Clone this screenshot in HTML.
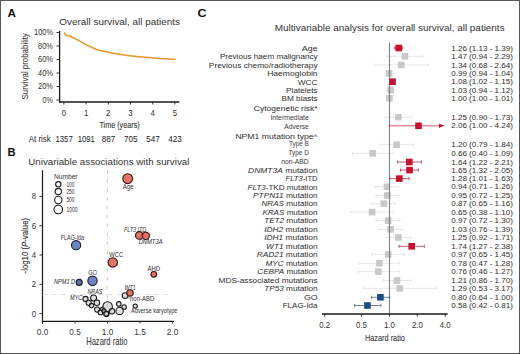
<!DOCTYPE html>
<html><head><meta charset="utf-8"><style>
html,body{margin:0;padding:0;background:#fff;}
svg{display:block;font-family:"Liberation Sans", sans-serif;}
</style></head><body>
<svg width="520" height="354" viewBox="0 0 520 354">
<rect x="0.5" y="0.5" width="519" height="353" fill="#fff" stroke="#575757" stroke-width="1"/>
<text x="7.40" y="16.80" font-size="11.0" textLength="8.40" lengthAdjust="spacingAndGlyphs" font-weight="bold" fill="#111">A</text>
<text x="59.30" y="24.90" font-size="9.5" textLength="120.70" lengthAdjust="spacingAndGlyphs" fill="#333">Overall survival, all patients</text>
<line x1="59.6" y1="30.8" x2="59.6" y2="102.6" stroke="#1a1a1a" stroke-width="1.3"/>
<line x1="56.5" y1="32.50" x2="59.6" y2="32.50" stroke="#222" stroke-width="0.9"/>
<text x="34.00" y="35.20" font-size="8.2" textLength="19.00" lengthAdjust="spacingAndGlyphs" fill="#333">100%</text>
<line x1="56.5" y1="46.00" x2="59.6" y2="46.00" stroke="#222" stroke-width="0.9"/>
<text x="38.00" y="48.70" font-size="8.2" textLength="15.00" lengthAdjust="spacingAndGlyphs" fill="#333">80%</text>
<line x1="56.5" y1="59.50" x2="59.6" y2="59.50" stroke="#222" stroke-width="0.9"/>
<text x="38.00" y="62.20" font-size="8.2" textLength="15.00" lengthAdjust="spacingAndGlyphs" fill="#333">60%</text>
<line x1="56.5" y1="73.00" x2="59.6" y2="73.00" stroke="#222" stroke-width="0.9"/>
<text x="38.00" y="75.70" font-size="8.2" textLength="15.00" lengthAdjust="spacingAndGlyphs" fill="#333">40%</text>
<line x1="56.5" y1="86.50" x2="59.6" y2="86.50" stroke="#222" stroke-width="0.9"/>
<text x="38.00" y="89.20" font-size="8.2" textLength="15.00" lengthAdjust="spacingAndGlyphs" fill="#333">20%</text>
<line x1="56.5" y1="100.00" x2="59.6" y2="100.00" stroke="#222" stroke-width="0.9"/>
<text x="42.60" y="102.70" font-size="8.2" textLength="10.40" lengthAdjust="spacingAndGlyphs" fill="#333">0%</text>
<line x1="59" y1="102" x2="179.4" y2="102" stroke="#1a1a1a" stroke-width="1.4"/>
<line x1="63.90" y1="102" x2="63.90" y2="104.5" stroke="#222" stroke-width="0.9"/>
<text x="63.90" y="115.60" font-size="9.0" textLength="4.40" lengthAdjust="spacingAndGlyphs" text-anchor="middle" fill="#333">0</text>
<line x1="86.10" y1="102" x2="86.10" y2="104.5" stroke="#222" stroke-width="0.9"/>
<text x="86.10" y="115.60" font-size="9.0" textLength="4.40" lengthAdjust="spacingAndGlyphs" text-anchor="middle" fill="#333">1</text>
<line x1="108.30" y1="102" x2="108.30" y2="104.5" stroke="#222" stroke-width="0.9"/>
<text x="108.30" y="115.60" font-size="9.0" textLength="4.40" lengthAdjust="spacingAndGlyphs" text-anchor="middle" fill="#333">2</text>
<line x1="130.50" y1="102" x2="130.50" y2="104.5" stroke="#222" stroke-width="0.9"/>
<text x="130.50" y="115.60" font-size="9.0" textLength="4.40" lengthAdjust="spacingAndGlyphs" text-anchor="middle" fill="#333">3</text>
<line x1="152.70" y1="102" x2="152.70" y2="104.5" stroke="#222" stroke-width="0.9"/>
<text x="152.70" y="115.60" font-size="9.0" textLength="4.40" lengthAdjust="spacingAndGlyphs" text-anchor="middle" fill="#333">4</text>
<line x1="174.90" y1="102" x2="174.90" y2="104.5" stroke="#222" stroke-width="0.9"/>
<text x="174.90" y="115.60" font-size="9.0" textLength="4.40" lengthAdjust="spacingAndGlyphs" text-anchor="middle" fill="#333">5</text>
<text x="99.40" y="128.30" font-size="9.2" textLength="40.30" lengthAdjust="spacingAndGlyphs" fill="#333" stroke="#333" stroke-width="0.1">Time (years)</text>
<text x="28.70" y="141.90" font-size="8.2" textLength="22.10" lengthAdjust="spacingAndGlyphs" fill="#222">At risk</text>
<text x="55.45" y="141.90" font-size="8.2" textLength="17.30" lengthAdjust="spacingAndGlyphs" fill="#222">1357</text>
<text x="77.65" y="141.90" font-size="8.2" textLength="17.30" lengthAdjust="spacingAndGlyphs" fill="#222">1091</text>
<text x="101.75" y="141.90" font-size="8.2" textLength="13.50" lengthAdjust="spacingAndGlyphs" fill="#222">887</text>
<text x="123.95" y="141.90" font-size="8.2" textLength="13.50" lengthAdjust="spacingAndGlyphs" fill="#222">705</text>
<text x="146.15" y="141.90" font-size="8.2" textLength="13.50" lengthAdjust="spacingAndGlyphs" fill="#222">547</text>
<text x="168.35" y="141.90" font-size="8.2" textLength="13.50" lengthAdjust="spacingAndGlyphs" fill="#222">423</text>
<text x="27.80" y="99.40" font-size="9.6" textLength="66.20" lengthAdjust="spacingAndGlyphs" fill="#3a3a3a" transform="rotate(-90 27.80 99.40)" stroke="#3a3a3a" stroke-width="0.08">Survival probability</text>
<path d="M64.3,32.4 L65.0,33.6 L65.4,35.0 L65.60,35.10 C66.33,35.30 68.27,35.62 70.00,36.30 C71.73,36.98 74.20,38.30 76.00,39.20 C77.80,40.10 78.72,40.58 80.80,41.70 C82.88,42.82 85.93,44.65 88.50,45.90 C91.07,47.15 93.65,48.30 96.20,49.20 C98.75,50.10 101.25,50.68 103.80,51.30 C106.35,51.92 108.93,52.42 111.50,52.90 C114.07,53.38 116.25,53.73 119.20,54.20 C122.15,54.67 125.32,55.23 129.20,55.70 C133.08,56.17 137.37,56.55 142.50,57.00 C147.63,57.45 154.52,58.00 160.00,58.40 C165.48,58.80 172.83,59.23 175.40,59.40" fill="none" stroke="#e8962a" stroke-width="1.5" stroke-linejoin="round"/>
<text x="7.40" y="155.90" font-size="10.2" textLength="8.10" lengthAdjust="spacingAndGlyphs" font-weight="bold" fill="#111">B</text>
<text x="28.30" y="164.70" font-size="9.5" textLength="161.10" lengthAdjust="spacingAndGlyphs" fill="#333">Univariable associations with survival</text>
<line x1="42.5" y1="170.3" x2="42.5" y2="323.8" stroke="#1a1a1a" stroke-width="1.2"/>
<line x1="42" y1="321.4" x2="174" y2="321.4" stroke="#1a1a1a" stroke-width="1.3"/>
<line x1="39.4" y1="313.60" x2="42.5" y2="313.60" stroke="#222" stroke-width="0.9"/>
<text x="31.80" y="316.60" font-size="8.5" textLength="4.30" lengthAdjust="spacingAndGlyphs" fill="#333">0</text>
<line x1="39.4" y1="284.30" x2="42.5" y2="284.30" stroke="#222" stroke-width="0.9"/>
<text x="31.80" y="287.30" font-size="8.5" textLength="4.30" lengthAdjust="spacingAndGlyphs" fill="#333">2</text>
<line x1="39.4" y1="255.00" x2="42.5" y2="255.00" stroke="#222" stroke-width="0.9"/>
<text x="31.80" y="258.00" font-size="8.5" textLength="4.30" lengthAdjust="spacingAndGlyphs" fill="#333">4</text>
<line x1="39.4" y1="225.70" x2="42.5" y2="225.70" stroke="#222" stroke-width="0.9"/>
<text x="31.80" y="228.70" font-size="8.5" textLength="4.30" lengthAdjust="spacingAndGlyphs" fill="#333">6</text>
<line x1="39.4" y1="196.40" x2="42.5" y2="196.40" stroke="#222" stroke-width="0.9"/>
<text x="31.80" y="199.40" font-size="8.5" textLength="4.30" lengthAdjust="spacingAndGlyphs" fill="#333">8</text>
<line x1="42.50" y1="321.4" x2="42.50" y2="323.5" stroke="#222" stroke-width="0.9"/>
<text x="42.50" y="335.30" font-size="8.7" textLength="11.40" lengthAdjust="spacingAndGlyphs" text-anchor="middle" fill="#333">0.0</text>
<line x1="75.00" y1="321.4" x2="75.00" y2="323.5" stroke="#222" stroke-width="0.9"/>
<text x="75.00" y="335.30" font-size="8.7" textLength="11.40" lengthAdjust="spacingAndGlyphs" text-anchor="middle" fill="#333">0.5</text>
<line x1="107.50" y1="321.4" x2="107.50" y2="323.5" stroke="#222" stroke-width="0.9"/>
<text x="107.50" y="335.30" font-size="8.7" textLength="11.40" lengthAdjust="spacingAndGlyphs" text-anchor="middle" fill="#333">1.0</text>
<line x1="140.00" y1="321.4" x2="140.00" y2="323.5" stroke="#222" stroke-width="0.9"/>
<text x="140.00" y="335.30" font-size="8.7" textLength="11.40" lengthAdjust="spacingAndGlyphs" text-anchor="middle" fill="#333">1.5</text>
<line x1="172.50" y1="321.4" x2="172.50" y2="323.5" stroke="#222" stroke-width="0.9"/>
<text x="172.50" y="335.30" font-size="8.7" textLength="11.40" lengthAdjust="spacingAndGlyphs" text-anchor="middle" fill="#333">2.0</text>
<text x="86.20" y="344.70" font-size="10.2" textLength="41.20" lengthAdjust="spacingAndGlyphs" fill="#333" stroke="#333" stroke-width="0.06">Hazard ratio</text>
<text x="28.30" y="273.40" font-size="9.5" textLength="55.50" lengthAdjust="spacingAndGlyphs" fill="#333" transform="rotate(-90 28.30 273.40)" stroke="#333" stroke-width="0.15">-log10 (<tspan font-style="italic">P</tspan>-value)</text>
<line x1="107.3" y1="170.3" x2="107.3" y2="320" stroke="#c4c4c4" stroke-width="0.9" stroke-dasharray="3.4,5.5"/>
<line x1="42.6" y1="294.6" x2="169" y2="294.6" stroke="#dadada" stroke-width="1.0" stroke-dasharray="4.8,4.5"/>
<text x="53.90" y="179.10" font-size="6.6" textLength="23.70" lengthAdjust="spacingAndGlyphs" fill="#333">Number</text>
<circle cx="58.3" cy="184.3" r="2.6500000000000004" fill="none" stroke="#1a1a1a" stroke-width="1.1"/>
<text x="66.40" y="186.65" font-size="6.4" textLength="8.20" lengthAdjust="spacingAndGlyphs" fill="#333">100</text>
<circle cx="58.3" cy="191.5" r="3.1500000000000004" fill="none" stroke="#1a1a1a" stroke-width="1.1"/>
<text x="66.40" y="193.85" font-size="6.4" textLength="8.20" lengthAdjust="spacingAndGlyphs" fill="#333">250</text>
<circle cx="58.3" cy="200.0" r="3.7" fill="none" stroke="#1a1a1a" stroke-width="1.1"/>
<text x="66.40" y="202.35" font-size="6.4" textLength="8.20" lengthAdjust="spacingAndGlyphs" fill="#333">500</text>
<circle cx="58.3" cy="209.5" r="4.3" fill="none" stroke="#1a1a1a" stroke-width="1.1"/>
<text x="66.40" y="211.85" font-size="6.4" textLength="11.20" lengthAdjust="spacingAndGlyphs" fill="#333">1000</text>
<circle cx="85.45" cy="298.95" r="2.6" fill="rgba(190,190,190,0.5)" stroke="#1a1a1a" stroke-width="1.05"/>
<circle cx="93.6" cy="297.9" r="3.0" fill="rgba(190,190,190,0.5)" stroke="#1a1a1a" stroke-width="1.05"/>
<circle cx="88.65" cy="302.85" r="2.6" fill="rgba(190,190,190,0.5)" stroke="#1a1a1a" stroke-width="1.05"/>
<circle cx="91.55" cy="305.6" r="2.25" fill="rgba(190,190,190,0.5)" stroke="#1a1a1a" stroke-width="1.05"/>
<circle cx="96.9" cy="302.85" r="2.8" fill="rgba(190,190,190,0.5)" stroke="#1a1a1a" stroke-width="1.05"/>
<circle cx="97.1" cy="309.6" r="2.55" fill="rgba(190,190,190,0.5)" stroke="#1a1a1a" stroke-width="1.05"/>
<circle cx="100.5" cy="312.4" r="2.4" fill="rgba(190,190,190,0.5)" stroke="#1a1a1a" stroke-width="1.05"/>
<circle cx="102.6" cy="309.0" r="2.1" fill="rgba(190,190,190,0.5)" stroke="#1a1a1a" stroke-width="1.05"/>
<circle cx="119.6" cy="310.9" r="3.7" fill="rgba(190,190,190,0.5)" stroke="#1a1a1a" stroke-width="1.05"/>
<circle cx="118.8" cy="303.9" r="2.3" fill="rgba(190,190,190,0.5)" stroke="#1a1a1a" stroke-width="1.05"/>
<circle cx="124.1" cy="307.0" r="2.3" fill="rgba(190,190,190,0.5)" stroke="#1a1a1a" stroke-width="1.05"/>
<circle cx="107.6" cy="306.6" r="4.8" fill="rgba(190,190,190,0.5)" stroke="#1a1a1a" stroke-width="1.05"/>
<circle cx="104.0" cy="310.8" r="2.1" fill="rgba(190,190,190,0.5)" stroke="#1a1a1a" stroke-width="1.05"/>
<circle cx="106.5" cy="314.1" r="2.6" fill="rgba(190,190,190,0.5)" stroke="#1a1a1a" stroke-width="1.05"/>
<circle cx="106.2" cy="313.8" r="2.4" fill="rgba(190,190,190,0.5)" stroke="#1a1a1a" stroke-width="1.05"/>
<circle cx="112.0" cy="311.2" r="2.7" fill="rgba(190,190,190,0.5)" stroke="#1a1a1a" stroke-width="1.05"/>
<circle cx="125.1" cy="295.6" r="2.9" fill="rgba(190,190,190,0.5)" stroke="#1a1a1a" stroke-width="1.05"/>
<circle cx="135.2" cy="306.0" r="2.1" fill="rgba(190,190,190,0.5)" stroke="#1a1a1a" stroke-width="1.05"/>
<circle cx="130.0" cy="292.9" r="3.2" fill="#de5f52" fill-opacity="0.88" stroke="#3a1410" stroke-width="1.1"/>
<circle cx="79.2" cy="282.4" r="3.0" fill="#4e5f8a" fill-opacity="0.88" stroke="#141a30" stroke-width="1.1"/>
<circle cx="92.5" cy="280.8" r="4.65" fill="#5b73b8" fill-opacity="0.88" stroke="#141a30" stroke-width="1.1"/>
<circle cx="76.1" cy="245.2" r="4.6000000000000005" fill="#5b73b8" fill-opacity="0.88" stroke="#141a30" stroke-width="1.1"/>
<circle cx="112.8" cy="262.4" r="4.7" fill="#de5f52" fill-opacity="0.88" stroke="#3a1410" stroke-width="1.1"/>
<circle cx="153.8" cy="274.3" r="2.8000000000000003" fill="#de5f52" fill-opacity="0.88" stroke="#3a1410" stroke-width="1.1"/>
<circle cx="139.3" cy="235.4" r="3.8" fill="#de5f52" fill-opacity="0.88" stroke="#3a1410" stroke-width="1.1"/>
<circle cx="145.8" cy="235.8" r="3.6500000000000004" fill="#de5f52" fill-opacity="0.88" stroke="#3a1410" stroke-width="1.1"/>
<circle cx="127.7" cy="178.7" r="4.9" fill="#de5f52" fill-opacity="0.88" stroke="#3a1410" stroke-width="1.1"/>
<text x="122.80" y="188.60" font-size="6.3" textLength="10.90" lengthAdjust="spacingAndGlyphs" fill="#2e2e2e">Age</text>
<text x="123.90" y="231.60" font-size="6.3" textLength="22.30" lengthAdjust="spacingAndGlyphs" fill="#2e2e2e" font-style="italic">FLT3 ITD</text>
<text x="138.70" y="244.20" font-size="6.3" textLength="23.80" lengthAdjust="spacingAndGlyphs" fill="#2e2e2e" font-style="italic">DNMT3A</text>
<text x="147.60" y="270.50" font-size="6.3" textLength="12.50" lengthAdjust="spacingAndGlyphs" fill="#2e2e2e">AHD</text>
<text x="60.80" y="239.50" font-size="6.3" textLength="23.30" lengthAdjust="spacingAndGlyphs" fill="#2e2e2e">FLAG-Ida</text>
<text x="109.20" y="257.10" font-size="6.3" textLength="13.90" lengthAdjust="spacingAndGlyphs" fill="#2e2e2e">WCC</text>
<text x="88.20" y="274.60" font-size="6.3" textLength="8.80" lengthAdjust="spacingAndGlyphs" fill="#2e2e2e">GO</text>
<text x="53.90" y="284.40" font-size="6.3" textLength="21.30" lengthAdjust="spacingAndGlyphs" fill="#2e2e2e" font-style="italic">NPM1 D</text>
<text x="87.40" y="294.10" font-size="6.3" textLength="15.00" lengthAdjust="spacingAndGlyphs" fill="#2e2e2e" font-style="italic">NRAS</text>
<text x="70.10" y="300.30" font-size="6.3" textLength="12.10" lengthAdjust="spacingAndGlyphs" fill="#2e2e2e" font-style="italic">MYC</text>
<text x="124.50" y="289.90" font-size="6.3" textLength="11.30" lengthAdjust="spacingAndGlyphs" fill="#2e2e2e" font-style="italic">WT1</text>
<text x="130.00" y="300.90" font-size="6.3" textLength="24.20" lengthAdjust="spacingAndGlyphs" fill="#2e2e2e">non-ABD</text>
<text x="131.10" y="313.00" font-size="6.3" textLength="46.40" lengthAdjust="spacingAndGlyphs" fill="#2e2e2e">Adverse karyotype</text>
<line x1="127.5" y1="297.6" x2="131" y2="298.6" stroke="#6a8ab0" stroke-width="0.6"/>
<text x="197.60" y="16.90" font-size="10.6" textLength="9.00" lengthAdjust="spacingAndGlyphs" font-weight="bold" fill="#111">C</text>
<text x="274.80" y="31.00" font-size="9.5" textLength="229.80" lengthAdjust="spacingAndGlyphs" fill="#333">Multivariable analysis for overall survival, all patients</text>
<text x="301.80" y="50.80" font-size="7.85" textLength="15.80" lengthAdjust="spacingAndGlyphs" fill="#2e2e2e">Age</text>
<text x="451.20" y="50.60" font-size="7.9" textLength="61.80" lengthAdjust="spacingAndGlyphs" fill="#2e2e2e">1.26 (1.13 - 1.39)</text>
<text x="219.90" y="59.10" font-size="7.85" textLength="97.70" lengthAdjust="spacingAndGlyphs" fill="#2e2e2e">Previous haem malignancy</text>
<text x="451.20" y="58.90" font-size="7.9" textLength="61.80" lengthAdjust="spacingAndGlyphs" fill="#2e2e2e">1.47 (0.94 - 2.29)</text>
<text x="208.80" y="67.70" font-size="7.85" textLength="108.80" lengthAdjust="spacingAndGlyphs" fill="#2e2e2e">Previous chemo/radiotherapy</text>
<text x="451.20" y="67.50" font-size="7.9" textLength="61.80" lengthAdjust="spacingAndGlyphs" fill="#2e2e2e">1.34 (0.68 - 2.64)</text>
<text x="267.20" y="76.20" font-size="7.85" textLength="50.40" lengthAdjust="spacingAndGlyphs" fill="#2e2e2e">Haemoglobin</text>
<text x="451.20" y="76.00" font-size="7.9" textLength="61.80" lengthAdjust="spacingAndGlyphs" fill="#2e2e2e">0.99 (0.94 - 1.04)</text>
<text x="297.70" y="84.50" font-size="7.85" textLength="19.90" lengthAdjust="spacingAndGlyphs" fill="#2e2e2e">WCC</text>
<text x="451.20" y="84.30" font-size="7.9" textLength="61.80" lengthAdjust="spacingAndGlyphs" fill="#2e2e2e">1.08 (1.02 - 1.15)</text>
<text x="286.10" y="92.90" font-size="7.85" textLength="31.50" lengthAdjust="spacingAndGlyphs" fill="#2e2e2e">Platelets</text>
<text x="451.20" y="92.70" font-size="7.9" textLength="61.80" lengthAdjust="spacingAndGlyphs" fill="#2e2e2e">1.03 (0.94 - 1.12)</text>
<text x="281.50" y="101.20" font-size="7.85" textLength="36.10" lengthAdjust="spacingAndGlyphs" fill="#2e2e2e">BM blasts</text>
<text x="451.20" y="101.00" font-size="7.9" textLength="61.80" lengthAdjust="spacingAndGlyphs" fill="#2e2e2e">1.00 (1.00 - 1.01)</text>
<text x="253.80" y="111.00" font-size="7.85" textLength="63.80" lengthAdjust="spacingAndGlyphs" fill="#2e2e2e">Cytogenetic risk*</text>
<text x="270.40" y="120.10" font-size="6.5" textLength="38.40" lengthAdjust="spacingAndGlyphs" fill="#3a3a3a">Intermediate</text>
<text x="451.20" y="119.80" font-size="7.9" textLength="61.80" lengthAdjust="spacingAndGlyphs" fill="#2e2e2e">1.25 (0.90 - 1.73)</text>
<text x="284.20" y="128.80" font-size="6.5" textLength="24.60" lengthAdjust="spacingAndGlyphs" fill="#3a3a3a">Adverse</text>
<text x="451.20" y="128.40" font-size="7.9" textLength="61.80" lengthAdjust="spacingAndGlyphs" fill="#2e2e2e">2.06 (1.00 - 4.24)</text>
<text x="235.40" y="139.00" font-size="7.85" textLength="82.20" lengthAdjust="spacingAndGlyphs" fill="#2e2e2e">NPM1 mutation type^</text>
<text x="288.90" y="146.10" font-size="6.5" textLength="19.90" lengthAdjust="spacingAndGlyphs" fill="#3a3a3a">Type B</text>
<text x="451.20" y="147.30" font-size="7.9" textLength="61.80" lengthAdjust="spacingAndGlyphs" fill="#2e2e2e">1.20 (0.79 - 1.84)</text>
<text x="288.40" y="154.70" font-size="6.5" textLength="20.40" lengthAdjust="spacingAndGlyphs" fill="#3a3a3a">Type D</text>
<text x="451.20" y="155.90" font-size="7.9" textLength="61.80" lengthAdjust="spacingAndGlyphs" fill="#2e2e2e">0.66 (0.40 - 1.09)</text>
<text x="281.20" y="163.60" font-size="6.5" textLength="27.60" lengthAdjust="spacingAndGlyphs" fill="#3a3a3a">non-ABD</text>
<text x="451.20" y="164.60" font-size="7.9" textLength="61.80" lengthAdjust="spacingAndGlyphs" fill="#2e2e2e">1.64 (1.22 - 2.21)</text>
<text x="248.10" y="172.90" font-size="7.85" textLength="69.50" lengthAdjust="spacingAndGlyphs" fill="#2e2e2e"><tspan font-style="italic">DNMT3A</tspan> mutation</text>
<text x="451.20" y="172.70" font-size="7.9" textLength="61.80" lengthAdjust="spacingAndGlyphs" fill="#2e2e2e">1.65 (1.32 - 2.05)</text>
<text x="285.50" y="181.40" font-size="7.85" textLength="32.10" lengthAdjust="spacingAndGlyphs" fill="#2e2e2e"><tspan font-style="italic">FLT3</tspan>-ITD</text>
<text x="451.20" y="181.20" font-size="7.9" textLength="61.80" lengthAdjust="spacingAndGlyphs" fill="#2e2e2e">1.28 (1.01 - 1.63)</text>
<text x="247.60" y="189.60" font-size="7.85" textLength="70.00" lengthAdjust="spacingAndGlyphs" fill="#2e2e2e"><tspan font-style="italic">FLT3</tspan>-TKD mutation</text>
<text x="451.20" y="189.40" font-size="7.9" textLength="61.80" lengthAdjust="spacingAndGlyphs" fill="#2e2e2e">0.94 (0.71 - 1.26)</text>
<text x="253.10" y="198.30" font-size="7.85" textLength="64.50" lengthAdjust="spacingAndGlyphs" fill="#2e2e2e"><tspan font-style="italic">PTPN11</tspan> mutation</text>
<text x="451.20" y="198.10" font-size="7.9" textLength="61.80" lengthAdjust="spacingAndGlyphs" fill="#2e2e2e">0.95 (0.72 - 1.25)</text>
<text x="261.40" y="206.40" font-size="7.85" textLength="56.20" lengthAdjust="spacingAndGlyphs" fill="#2e2e2e"><tspan font-style="italic">NRAS</tspan> mutation</text>
<text x="451.20" y="206.20" font-size="7.9" textLength="61.80" lengthAdjust="spacingAndGlyphs" fill="#2e2e2e">0.87 (0.65 - 1.16)</text>
<text x="262.40" y="214.90" font-size="7.85" textLength="55.20" lengthAdjust="spacingAndGlyphs" fill="#2e2e2e"><tspan font-style="italic">KRAS</tspan> mutation</text>
<text x="451.20" y="214.70" font-size="7.9" textLength="61.80" lengthAdjust="spacingAndGlyphs" fill="#2e2e2e">0.65 (0.38 - 1.10)</text>
<text x="264.20" y="223.40" font-size="7.85" textLength="53.40" lengthAdjust="spacingAndGlyphs" fill="#2e2e2e"><tspan font-style="italic">TET2</tspan> mutation</text>
<text x="451.20" y="223.20" font-size="7.9" textLength="61.80" lengthAdjust="spacingAndGlyphs" fill="#2e2e2e">0.97 (0.72 - 1.30)</text>
<text x="264.20" y="232.20" font-size="7.85" textLength="53.40" lengthAdjust="spacingAndGlyphs" fill="#2e2e2e"><tspan font-style="italic">IDH2</tspan> mutation</text>
<text x="451.20" y="232.00" font-size="7.9" textLength="61.80" lengthAdjust="spacingAndGlyphs" fill="#2e2e2e">1.03 (0.76 - 1.39)</text>
<text x="264.20" y="240.30" font-size="7.85" textLength="53.40" lengthAdjust="spacingAndGlyphs" fill="#2e2e2e"><tspan font-style="italic">IDH1</tspan> mutation</text>
<text x="451.20" y="240.10" font-size="7.9" textLength="61.80" lengthAdjust="spacingAndGlyphs" fill="#2e2e2e">1.25 (0.92 - 1.71)</text>
<text x="266.10" y="249.10" font-size="7.85" textLength="51.50" lengthAdjust="spacingAndGlyphs" fill="#2e2e2e"><tspan font-style="italic">WT1</tspan> mutation</text>
<text x="451.20" y="248.90" font-size="7.9" textLength="61.80" lengthAdjust="spacingAndGlyphs" fill="#2e2e2e">1.74 (1.27 - 2.38)</text>
<text x="256.80" y="257.20" font-size="7.85" textLength="60.80" lengthAdjust="spacingAndGlyphs" fill="#2e2e2e"><tspan font-style="italic">RAD21</tspan> mutation</text>
<text x="451.20" y="257.00" font-size="7.9" textLength="61.80" lengthAdjust="spacingAndGlyphs" fill="#2e2e2e">0.97 (0.65 - 1.45)</text>
<text x="265.40" y="266.10" font-size="7.85" textLength="52.20" lengthAdjust="spacingAndGlyphs" fill="#2e2e2e"><tspan font-style="italic">MYC</tspan> mutation</text>
<text x="451.20" y="265.90" font-size="7.9" textLength="61.80" lengthAdjust="spacingAndGlyphs" fill="#2e2e2e">0.78 (0.47 - 1.28)</text>
<text x="257.30" y="274.40" font-size="7.85" textLength="60.30" lengthAdjust="spacingAndGlyphs" fill="#2e2e2e"><tspan font-style="italic">CEBPA</tspan> mutation</text>
<text x="451.20" y="274.20" font-size="7.9" textLength="61.80" lengthAdjust="spacingAndGlyphs" fill="#2e2e2e">0.76 (0.46 - 1.27)</text>
<text x="218.50" y="283.30" font-size="7.85" textLength="99.10" lengthAdjust="spacingAndGlyphs" fill="#2e2e2e">MDS-associated mutations</text>
<text x="451.20" y="283.10" font-size="7.9" textLength="61.80" lengthAdjust="spacingAndGlyphs" fill="#2e2e2e">1.21 (0.86 - 1.70)</text>
<text x="264.20" y="291.20" font-size="7.85" textLength="53.40" lengthAdjust="spacingAndGlyphs" fill="#2e2e2e"><tspan font-style="italic">TP53</tspan> mutation</text>
<text x="451.20" y="291.00" font-size="7.9" textLength="61.80" lengthAdjust="spacingAndGlyphs" fill="#2e2e2e">1.29 (0.53 - 3.17)</text>
<text x="303.90" y="300.10" font-size="7.85" textLength="13.70" lengthAdjust="spacingAndGlyphs" fill="#2e2e2e">GO</text>
<text x="451.20" y="299.90" font-size="7.9" textLength="61.80" lengthAdjust="spacingAndGlyphs" fill="#2e2e2e">0.80 (0.64 - 1.00)</text>
<text x="282.70" y="308.30" font-size="7.85" textLength="34.90" lengthAdjust="spacingAndGlyphs" fill="#2e2e2e">FLAG-Ida</text>
<text x="451.20" y="308.10" font-size="7.9" textLength="61.80" lengthAdjust="spacingAndGlyphs" fill="#2e2e2e">0.58 (0.42 - 0.81)</text>
<line x1="386.91" y1="56.3" x2="422.76" y2="56.3" stroke="#e0e0e0" stroke-width="0.8"/>
<line x1="386.91" y1="54.699999999999996" x2="386.91" y2="57.9" stroke="#e0e0e0" stroke-width="0.8"/>
<line x1="422.76" y1="54.699999999999996" x2="422.76" y2="57.9" stroke="#e0e0e0" stroke-width="0.8"/>
<rect x="401.61" y="53.00" width="6.6" height="6.6" fill="#c8c8c8"/>
<line x1="373.87" y1="64.9" x2="428.48" y2="64.9" stroke="#e0e0e0" stroke-width="0.8"/>
<line x1="373.87" y1="63.300000000000004" x2="373.87" y2="66.5" stroke="#e0e0e0" stroke-width="0.8"/>
<line x1="428.48" y1="63.300000000000004" x2="428.48" y2="66.5" stroke="#e0e0e0" stroke-width="0.8"/>
<rect x="397.88" y="61.60" width="6.6" height="6.6" fill="#c8c8c8"/>
<line x1="386.91" y1="73.4" x2="390.98" y2="73.4" stroke="#e0e0e0" stroke-width="0.8"/>
<line x1="386.91" y1="71.80000000000001" x2="386.91" y2="75.0" stroke="#e0e0e0" stroke-width="0.8"/>
<line x1="390.98" y1="71.80000000000001" x2="390.98" y2="75.0" stroke="#e0e0e0" stroke-width="0.8"/>
<rect x="385.70" y="70.10" width="6.6" height="6.6" fill="#c8c8c8"/>
<line x1="386.91" y1="90.1" x2="393.96" y2="90.1" stroke="#e0e0e0" stroke-width="0.8"/>
<line x1="386.91" y1="88.5" x2="386.91" y2="91.69999999999999" stroke="#e0e0e0" stroke-width="0.8"/>
<line x1="393.96" y1="88.5" x2="393.96" y2="91.69999999999999" stroke="#e0e0e0" stroke-width="0.8"/>
<rect x="387.29" y="86.80" width="6.6" height="6.6" fill="#c8c8c8"/>
<line x1="389.40" y1="98.4" x2="389.80" y2="98.4" stroke="#e0e0e0" stroke-width="0.8"/>
<line x1="389.40" y1="96.80000000000001" x2="389.40" y2="100.0" stroke="#e0e0e0" stroke-width="0.8"/>
<line x1="389.80" y1="96.80000000000001" x2="389.80" y2="100.0" stroke="#e0e0e0" stroke-width="0.8"/>
<rect x="386.10" y="95.10" width="6.6" height="6.6" fill="#c8c8c8"/>
<line x1="385.16" y1="117.2" x2="411.47" y2="117.2" stroke="#e0e0e0" stroke-width="0.8"/>
<line x1="385.16" y1="115.60000000000001" x2="385.16" y2="118.8" stroke="#e0e0e0" stroke-width="0.8"/>
<line x1="411.47" y1="115.60000000000001" x2="411.47" y2="118.8" stroke="#e0e0e0" stroke-width="0.8"/>
<rect x="395.08" y="113.90" width="6.6" height="6.6" fill="#c8c8c8"/>
<line x1="379.91" y1="144.7" x2="413.95" y2="144.7" stroke="#e0e0e0" stroke-width="0.8"/>
<line x1="379.91" y1="143.1" x2="379.91" y2="146.29999999999998" stroke="#e0e0e0" stroke-width="0.8"/>
<line x1="413.95" y1="143.1" x2="413.95" y2="146.29999999999998" stroke="#e0e0e0" stroke-width="0.8"/>
<rect x="393.44" y="141.40" width="6.6" height="6.6" fill="#c8c8c8"/>
<line x1="352.51" y1="153.3" x2="392.87" y2="153.3" stroke="#e0e0e0" stroke-width="0.8"/>
<line x1="352.51" y1="151.70000000000002" x2="352.51" y2="154.9" stroke="#e0e0e0" stroke-width="0.8"/>
<line x1="392.87" y1="151.70000000000002" x2="392.87" y2="154.9" stroke="#e0e0e0" stroke-width="0.8"/>
<rect x="369.37" y="150.00" width="6.6" height="6.6" fill="#c8c8c8"/>
<line x1="375.61" y1="186.8" x2="398.70" y2="186.8" stroke="#e0e0e0" stroke-width="0.8"/>
<line x1="375.61" y1="185.20000000000002" x2="375.61" y2="188.4" stroke="#e0e0e0" stroke-width="0.8"/>
<line x1="398.70" y1="185.20000000000002" x2="398.70" y2="188.4" stroke="#e0e0e0" stroke-width="0.8"/>
<rect x="383.61" y="183.50" width="6.6" height="6.6" fill="#c8c8c8"/>
<line x1="376.17" y1="195.5" x2="398.38" y2="195.5" stroke="#e0e0e0" stroke-width="0.8"/>
<line x1="376.17" y1="193.9" x2="376.17" y2="197.1" stroke="#e0e0e0" stroke-width="0.8"/>
<line x1="398.38" y1="193.9" x2="398.38" y2="197.1" stroke="#e0e0e0" stroke-width="0.8"/>
<rect x="384.03" y="192.20" width="6.6" height="6.6" fill="#c8c8c8"/>
<line x1="372.06" y1="203.6" x2="395.38" y2="203.6" stroke="#e0e0e0" stroke-width="0.8"/>
<line x1="372.06" y1="202.0" x2="372.06" y2="205.2" stroke="#e0e0e0" stroke-width="0.8"/>
<line x1="395.38" y1="202.0" x2="395.38" y2="205.2" stroke="#e0e0e0" stroke-width="0.8"/>
<rect x="380.49" y="200.30" width="6.6" height="6.6" fill="#c8c8c8"/>
<line x1="350.45" y1="212.1" x2="393.24" y2="212.1" stroke="#e0e0e0" stroke-width="0.8"/>
<line x1="350.45" y1="210.5" x2="350.45" y2="213.7" stroke="#e0e0e0" stroke-width="0.8"/>
<line x1="393.24" y1="210.5" x2="393.24" y2="213.7" stroke="#e0e0e0" stroke-width="0.8"/>
<rect x="368.76" y="208.80" width="6.6" height="6.6" fill="#c8c8c8"/>
<line x1="376.17" y1="220.6" x2="399.96" y2="220.6" stroke="#e0e0e0" stroke-width="0.8"/>
<line x1="376.17" y1="219.0" x2="376.17" y2="222.2" stroke="#e0e0e0" stroke-width="0.8"/>
<line x1="399.96" y1="219.0" x2="399.96" y2="222.2" stroke="#e0e0e0" stroke-width="0.8"/>
<rect x="384.87" y="217.30" width="6.6" height="6.6" fill="#c8c8c8"/>
<line x1="378.35" y1="229.4" x2="402.66" y2="229.4" stroke="#e0e0e0" stroke-width="0.8"/>
<line x1="378.35" y1="227.8" x2="378.35" y2="231.0" stroke="#e0e0e0" stroke-width="0.8"/>
<line x1="402.66" y1="227.8" x2="402.66" y2="231.0" stroke="#e0e0e0" stroke-width="0.8"/>
<rect x="387.29" y="226.10" width="6.6" height="6.6" fill="#c8c8c8"/>
<line x1="386.04" y1="237.5" x2="411.00" y2="237.5" stroke="#e0e0e0" stroke-width="0.8"/>
<line x1="386.04" y1="235.9" x2="386.04" y2="239.1" stroke="#e0e0e0" stroke-width="0.8"/>
<line x1="411.00" y1="235.9" x2="411.00" y2="239.1" stroke="#e0e0e0" stroke-width="0.8"/>
<rect x="395.08" y="234.20" width="6.6" height="6.6" fill="#c8c8c8"/>
<line x1="372.06" y1="254.4" x2="404.36" y2="254.4" stroke="#e0e0e0" stroke-width="0.8"/>
<line x1="372.06" y1="252.8" x2="372.06" y2="256.0" stroke="#e0e0e0" stroke-width="0.8"/>
<line x1="404.36" y1="252.8" x2="404.36" y2="256.0" stroke="#e0e0e0" stroke-width="0.8"/>
<rect x="384.87" y="251.10" width="6.6" height="6.6" fill="#c8c8c8"/>
<line x1="359.00" y1="263.3" x2="399.34" y2="263.3" stroke="#e0e0e0" stroke-width="0.8"/>
<line x1="359.00" y1="261.7" x2="359.00" y2="264.90000000000003" stroke="#e0e0e0" stroke-width="0.8"/>
<line x1="399.34" y1="261.7" x2="399.34" y2="264.90000000000003" stroke="#e0e0e0" stroke-width="0.8"/>
<rect x="376.10" y="260.00" width="6.6" height="6.6" fill="#c8c8c8"/>
<line x1="358.14" y1="271.6" x2="399.02" y2="271.6" stroke="#e0e0e0" stroke-width="0.8"/>
<line x1="358.14" y1="270.0" x2="358.14" y2="273.20000000000005" stroke="#e0e0e0" stroke-width="0.8"/>
<line x1="399.02" y1="270.0" x2="399.02" y2="273.20000000000005" stroke="#e0e0e0" stroke-width="0.8"/>
<rect x="375.05" y="268.30" width="6.6" height="6.6" fill="#c8c8c8"/>
<line x1="383.33" y1="280.5" x2="410.76" y2="280.5" stroke="#e0e0e0" stroke-width="0.8"/>
<line x1="383.33" y1="278.9" x2="383.33" y2="282.1" stroke="#e0e0e0" stroke-width="0.8"/>
<line x1="410.76" y1="278.9" x2="410.76" y2="282.1" stroke="#e0e0e0" stroke-width="0.8"/>
<rect x="393.77" y="277.20" width="6.6" height="6.6" fill="#c8c8c8"/>
<line x1="363.84" y1="288.4" x2="435.85" y2="288.4" stroke="#e0e0e0" stroke-width="0.8"/>
<line x1="363.84" y1="286.79999999999995" x2="363.84" y2="290.0" stroke="#e0e0e0" stroke-width="0.8"/>
<line x1="435.85" y1="286.79999999999995" x2="435.85" y2="290.0" stroke="#e0e0e0" stroke-width="0.8"/>
<rect x="396.35" y="285.10" width="6.6" height="6.6" fill="#c8c8c8"/>
<line x1="389.5" y1="42.7" x2="389.5" y2="314.5" stroke="#808080" stroke-width="1.1"/>
<line x1="394.32" y1="48.0" x2="402.66" y2="48.0" stroke="#b03848" stroke-width="0.8"/>
<line x1="394.32" y1="46.4" x2="394.32" y2="49.6" stroke="#b03848" stroke-width="0.8"/>
<line x1="402.66" y1="46.4" x2="402.66" y2="49.6" stroke="#b03848" stroke-width="0.8"/>
<rect x="395.40" y="44.70" width="6.6" height="6.6" fill="#c8102e"/>
<line x1="390.20" y1="81.7" x2="395.03" y2="81.7" stroke="#b03848" stroke-width="0.8"/>
<line x1="390.20" y1="80.10000000000001" x2="390.20" y2="83.3" stroke="#b03848" stroke-width="0.8"/>
<line x1="395.03" y1="80.10000000000001" x2="395.03" y2="83.3" stroke="#b03848" stroke-width="0.8"/>
<rect x="389.20" y="78.40" width="6.6" height="6.6" fill="#c8102e"/>
<line x1="389.40" y1="125.8" x2="443.80" y2="125.8" stroke="#dc5a6a" stroke-width="1.0"/>
<line x1="389.40" y1="124.2" x2="389.40" y2="127.39999999999999" stroke="#b03848" stroke-width="0.8"/>
<path d="M439.00,123.5 L443.80,125.8 L439.00,128.1 Z" fill="#c8102e"/>
<rect x="415.20" y="122.50" width="6.6" height="6.6" fill="#c8102e"/>
<line x1="397.41" y1="162.0" x2="421.33" y2="162.0" stroke="#b03848" stroke-width="0.8"/>
<line x1="397.41" y1="160.4" x2="397.41" y2="163.6" stroke="#b03848" stroke-width="0.8"/>
<line x1="421.33" y1="160.4" x2="421.33" y2="163.6" stroke="#b03848" stroke-width="0.8"/>
<rect x="406.02" y="158.70" width="6.6" height="6.6" fill="#c8102e"/>
<line x1="400.58" y1="170.1" x2="418.30" y2="170.1" stroke="#b03848" stroke-width="0.8"/>
<line x1="400.58" y1="168.5" x2="400.58" y2="171.7" stroke="#b03848" stroke-width="0.8"/>
<line x1="418.30" y1="168.5" x2="418.30" y2="171.7" stroke="#b03848" stroke-width="0.8"/>
<rect x="406.26" y="166.80" width="6.6" height="6.6" fill="#c8102e"/>
<line x1="389.80" y1="178.6" x2="409.07" y2="178.6" stroke="#b03848" stroke-width="0.8"/>
<line x1="389.80" y1="177.0" x2="389.80" y2="180.2" stroke="#b03848" stroke-width="0.8"/>
<line x1="409.07" y1="177.0" x2="409.07" y2="180.2" stroke="#b03848" stroke-width="0.8"/>
<rect x="396.04" y="175.30" width="6.6" height="6.6" fill="#c8102e"/>
<line x1="399.02" y1="246.3" x2="424.31" y2="246.3" stroke="#b03848" stroke-width="0.8"/>
<line x1="399.02" y1="244.70000000000002" x2="399.02" y2="247.9" stroke="#b03848" stroke-width="0.8"/>
<line x1="424.31" y1="244.70000000000002" x2="424.31" y2="247.9" stroke="#b03848" stroke-width="0.8"/>
<rect x="408.40" y="243.00" width="6.6" height="6.6" fill="#c8102e"/>
<line x1="371.43" y1="297.3" x2="389.40" y2="297.3" stroke="#4a6488" stroke-width="0.8"/>
<line x1="371.43" y1="295.7" x2="371.43" y2="298.90000000000003" stroke="#4a6488" stroke-width="0.8"/>
<line x1="389.40" y1="295.7" x2="389.40" y2="298.90000000000003" stroke="#4a6488" stroke-width="0.8"/>
<rect x="377.12" y="294.00" width="6.6" height="6.6" fill="#1c4a86"/>
<line x1="354.48" y1="305.5" x2="380.92" y2="305.5" stroke="#4a6488" stroke-width="0.8"/>
<line x1="354.48" y1="303.9" x2="354.48" y2="307.1" stroke="#4a6488" stroke-width="0.8"/>
<line x1="380.92" y1="303.9" x2="380.92" y2="307.1" stroke="#4a6488" stroke-width="0.8"/>
<rect x="364.17" y="302.20" width="6.6" height="6.6" fill="#1c4a86"/>
<line x1="322" y1="314" x2="447.7" y2="314" stroke="#1a1a1a" stroke-width="1.3"/>
<line x1="324.61" y1="314" x2="324.61" y2="316.6" stroke="#222" stroke-width="0.9"/>
<text x="324.61" y="327.50" font-size="8.6" textLength="10.80" lengthAdjust="spacingAndGlyphs" text-anchor="middle" fill="#333">0.2</text>
<line x1="361.49" y1="314" x2="361.49" y2="316.6" stroke="#222" stroke-width="0.9"/>
<text x="361.49" y="327.50" font-size="8.6" textLength="10.80" lengthAdjust="spacingAndGlyphs" text-anchor="middle" fill="#333">0.5</text>
<line x1="389.40" y1="314" x2="389.40" y2="316.6" stroke="#222" stroke-width="0.9"/>
<text x="389.40" y="327.50" font-size="8.6" textLength="10.80" lengthAdjust="spacingAndGlyphs" text-anchor="middle" fill="#333">1.0</text>
<line x1="417.31" y1="314" x2="417.31" y2="316.6" stroke="#222" stroke-width="0.9"/>
<text x="417.31" y="327.50" font-size="8.6" textLength="10.80" lengthAdjust="spacingAndGlyphs" text-anchor="middle" fill="#333">2.0</text>
<line x1="445.21" y1="314" x2="445.21" y2="316.6" stroke="#222" stroke-width="0.9"/>
<text x="445.21" y="327.50" font-size="8.6" textLength="10.80" lengthAdjust="spacingAndGlyphs" text-anchor="middle" fill="#333">4.0</text>
<text x="365.00" y="341.30" font-size="9.4" textLength="39.90" lengthAdjust="spacingAndGlyphs" fill="#333" stroke="#333" stroke-width="0.08">Hazard ratio</text>
</svg></body></html>
